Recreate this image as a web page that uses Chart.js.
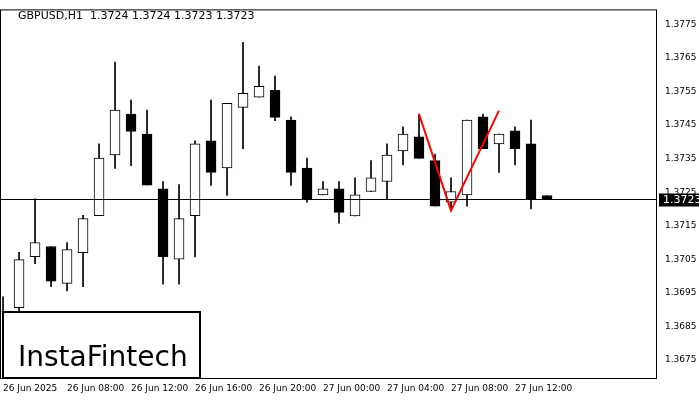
<!DOCTYPE html>
<html>
<head>
<meta charset="UTF-8">
<script src="https://cdn.jsdelivr.net/npm/chart.js"></script>
<style>body{margin:0;background:#fff}#wrap{width:700px;height:400px}</style>
</head>
<body>
<div id="wrap"><canvas id="c"></canvas></div>
<script>
// candles, H1, index 0 = first visible bar
const opens  = [1.36893,1.36906,1.37058,1.37088,1.36978,1.3707,1.3718,1.37361,1.37483,1.37423,1.3726,1.3705,1.3718,1.37403,1.37322,1.37503,1.37533,1.37554,1.37465,1.37322,1.37242,1.3726,1.37179,1.37252,1.37282,1.37373,1.37415,1.37344,1.3722,1.37242,1.37475,1.37394,1.37433,1.37394,1.3724];
const highs  = [1.36938,1.37071,1.3723,1.37088,1.3710,1.37181,1.37394,1.37638,1.37525,1.37495,1.37282,1.37273,1.37403,1.37525,1.37515,1.37697,1.37626,1.37596,1.37475,1.37352,1.37282,1.37282,1.37293,1.37344,1.37394,1.37445,1.37483,1.37364,1.37293,1.37465,1.37483,1.37423,1.37445,1.37465,1.3724];
const lows   = [1.3684,1.36876,1.37037,1.36968,1.36956,1.36968,1.3718,1.37321,1.37329,1.37271,1.36976,1.36976,1.37057,1.3727,1.3724,1.3738,1.37533,1.37463,1.3727,1.3722,1.37242,1.37158,1.37179,1.37252,1.3723,1.37331,1.37351,1.37208,1.37195,1.37208,1.3738,1.37309,1.37331,1.372,1.3723];
const closes = [1.36893,1.37049,1.3710,1.36985,1.37079,1.37171,1.37352,1.37495,1.37431,1.37271,1.37057,1.37171,1.37394,1.37309,1.37515,1.37545,1.37566,1.37473,1.37309,1.3723,1.3726,1.3719,1.37242,1.37293,1.37361,1.37423,1.37351,1.37208,1.37252,1.37465,1.3738,1.37423,1.3738,1.3723,1.3723];
const timeLabels = ['26 Jun 2025','26 Jun 08:00','26 Jun 12:00','26 Jun 16:00','26 Jun 20:00','27 Jun 00:00','27 Jun 04:00','27 Jun 08:00','27 Jun 12:00'];
const patternX = [26, 28, 31];
const patternY = [1.37483, 1.37195, 1.37493];
const lastPrice = 1.3723;
const title = 'GBPUSD,H1  1.3724 1.3724 1.3723 1.3723';

const idx = opens.map((_, i) => i);
const wicks = idx.map(i => ({x: i, y: [lows[i], highs[i]]}));
const bodies = idx.map(i => {
  let a = opens[i], b = closes[i];
  if (Math.abs(a - b) < 0.00003) b = a - 0.00003;
  return {x: i, y: [Math.min(a, b), Math.max(a, b)]};
});
const bodyFill = idx.map(i => closes[i] >= opens[i] ? '#fff' : '#000');

const extras = {
  id: 'extras',
  afterDatasetsDraw(chart) {
    const {ctx, chartArea: a, scales: {x, y}} = chart;
    ctx.save();
    // last price line
    const ly = Math.round(y.getPixelForValue(lastPrice)) + 0.5;
    ctx.strokeStyle = '#000'; ctx.lineWidth = 1;
    ctx.beginPath(); ctx.moveTo(a.left, ly); ctx.lineTo(a.right, ly); ctx.stroke();
    // frame
    ctx.strokeRect(a.left + 0.5, a.top + 0.5, a.right - a.left - 1, a.bottom - a.top);
    // price label
    ctx.fillStyle = '#000';
    ctx.fillRect(a.right + 2, ly - 6, 40, 13);
    ctx.fillStyle = '#fff'; ctx.font = '11px "DejaVu Sans"';
    ctx.textBaseline = 'middle'; ctx.fillText(lastPrice.toFixed(4), a.right + 6, ly + 1);
    // title
    ctx.fillStyle = '#000'; ctx.font = '11px "DejaVu Sans"';
    ctx.fillText(title, 18, 16);
    // logo
    ctx.fillStyle = '#fff'; ctx.fillRect(3, 312, 197, 66);
    ctx.strokeStyle = '#000'; ctx.lineWidth = 2; ctx.strokeRect(3, 312, 197, 66);
    ctx.fillStyle = '#000'; ctx.font = '28px "DejaVu Sans"';
    ctx.fillText('InstaFintech', 18, 359);
    ctx.restore();
  }
};

new Chart(document.getElementById('c'), {
  type: 'bar',
  data: {
    datasets: [
      {type: 'line', data: patternX.map((v, i) => ({x: v, y: patternY[i]})), borderColor: '#ff0000', borderWidth: 2, pointRadius: 0, order: 0},
      {data: bodies, backgroundColor: bodyFill, borderColor: '#000', borderWidth: 1, borderSkipped: false, barThickness: 10, grouped: false, order: 1},
      {data: wicks, backgroundColor: '#000', barThickness: 1, grouped: false, order: 2}
    ]
  },
  options: {
    responsive: true, maintainAspectRatio: false, animation: false,
    layout: {padding: {top: 8, left: 0, right: 0, bottom: 0}},
    plugins: {legend: {display: false}, tooltip: {enabled: false}},
    scales: {
      x: {
        type: 'linear', min: -0.19, max: 40.875, offset: false,
        grid: {display: false, drawTicks: true, tickLength: 4},
        border: {display: false},
        afterBuildTicks: s => { s.ticks = timeLabels.map((_, k) => ({value: k * 4})); },
        ticks: {align: 'start', maxRotation: 0, autoSkip: false, padding: 1, color: '#000',
          font: {family: 'DejaVu Sans', size: 9},
          callback: v => timeLabels[v / 4]},
        afterFit: s => { s.height = 22; }
      },
      y: {
        position: 'right', min: 1.36696, max: 1.37795,
        grid: {display: false, tickLength: 4},
        border: {display: false},
        afterBuildTicks: s => { const t = []; for (let k = 0; k <= 10; k++) t.push({value: 1.3675 + k * 0.001}); s.ticks = t; },
        ticks: {color: '#000', padding: 4, font: {family: 'DejaVu Sans', size: 9}, callback: v => v.toFixed(4)},
        afterFit: s => { s.width = 43; }
      }
    }
  },
  plugins: [extras]
});
</script>
</body>
</html>
